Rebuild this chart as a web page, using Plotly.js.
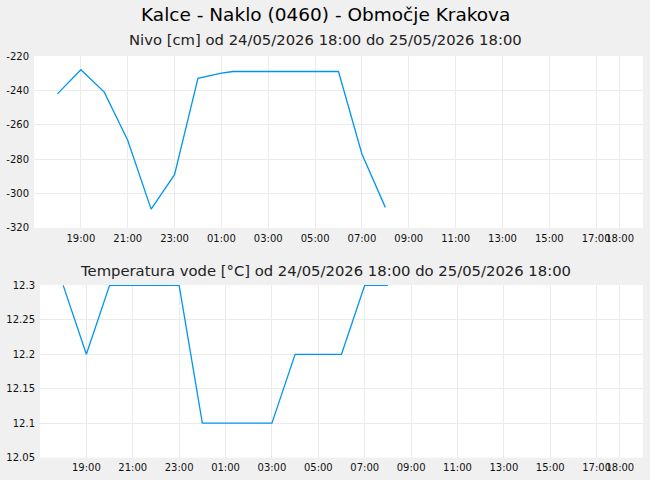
<!DOCTYPE html>
<html>
<head>
<meta charset="utf-8">
<script src="https://cdn.plot.ly/plotly-3.0.1.min.js"></script>
<style>
  html, body { margin: 0; padding: 0; background: #f0f0f0; }
  #chart { width: 650px; height: 480px; }
</style>
</head>
<body>
<div id="chart"></div>
<script>
// ===============================================
// DATA
// ===============================================
const levelTimes = [
    "2026-05-24 18:00", "2026-05-24 19:00", "2026-05-24 20:00", "2026-05-24 21:00",
    "2026-05-24 22:00", "2026-05-24 23:00", "2026-05-25 00:00", "2026-05-25 00:30",
    "2026-05-25 01:00", "2026-05-25 01:30", "2026-05-25 02:00", "2026-05-25 03:00",
    "2026-05-25 04:00", "2026-05-25 05:00", "2026-05-25 06:00", "2026-05-25 07:00",
    "2026-05-25 08:00"
];
const levelValues = [-242, -228, -241, -269, -309, -289, -233, -231.5, -230, -229, -229, -229, -229, -229, -229, -277, -308];

const tempTimes = [
    "2026-05-24 18:00", "2026-05-24 19:00", "2026-05-24 20:00", "2026-05-24 21:00",
    "2026-05-24 22:00", "2026-05-24 23:00", "2026-05-25 00:00", "2026-05-25 01:00",
    "2026-05-25 02:00", "2026-05-25 03:00", "2026-05-25 04:00", "2026-05-25 05:00",
    "2026-05-25 06:00", "2026-05-25 07:00", "2026-05-25 08:00"
];
const tempValues = [12.3, 12.2, 12.3, 12.3, 12.3, 12.3, 12.1, 12.1, 12.1, 12.1, 12.2, 12.2, 12.2, 12.3, 12.3];

const tickTimes = [
    "2026-05-24 19:00", "2026-05-24 21:00", "2026-05-24 23:00", "2026-05-25 01:00",
    "2026-05-25 03:00", "2026-05-25 05:00", "2026-05-25 07:00", "2026-05-25 09:00",
    "2026-05-25 11:00", "2026-05-25 13:00", "2026-05-25 15:00", "2026-05-25 17:00",
    "2026-05-25 18:00"
];
const tickLabels = ["19:00", "21:00", "23:00", "01:00", "03:00", "05:00", "07:00",
    "09:00", "11:00", "13:00", "15:00", "17:00", "18:00"];

const levelTicks = [-320, -300, -280, -260, -240, -220];
const levelTickLabels = ["-320", "-300", "-280", "-260", "-240", "-220"];
const tempTicks = [12.05, 12.1, 12.15, 12.2, 12.25, 12.3];
const tempTickLabels = ["12.05", "12.1", "12.15", "12.2", "12.25", "12.3"];

const xRange = ["2026-05-24 17:00", "2026-05-25 19:00"];

// ===============================================
// STYLE
// ===============================================
const lineColor = "#0095ee";
const gridColor = "#ebebeb";
const font = "DejaVu Sans, sans-serif";

function xAxis(anchor, domain, standoff) {
    return {
        type: "date",
        range: xRange,
        domain: domain,
        anchor: anchor,
        tickmode: "array",
        tickvals: tickTimes,
        ticktext: tickLabels,
        tickangle: 0,
        ticklabelstandoff: standoff,
        showgrid: true,
        gridcolor: gridColor,
        zeroline: false,
        showline: false,
        ticks: "",
        automargin: false,
        tickfont: { family: font, size: 10, color: "#111" }
    };
}

function yAxis(anchor, domain, range, vals, labels) {
    return {
        range: range,
        domain: domain,
        anchor: anchor,
        tickmode: "array",
        tickvals: vals,
        ticktext: labels,
        ticklabelstandoff: 4,
        showgrid: true,
        gridcolor: gridColor,
        zeroline: false,
        showline: false,
        ticks: "",
        automargin: false,
        tickfont: { family: font, size: 10, color: "#111" }
    };
}

// ===============================================
// TRACES + LAYOUT
// ===============================================
const traces = [
    {
        x: levelTimes, y: levelValues,
        type: "scatter", mode: "lines",
        line: { color: lineColor, width: 1.3 },
        xaxis: "x", yaxis: "y",
        hoverinfo: "skip"
    },
    {
        x: tempTimes, y: tempValues,
        type: "scatter", mode: "lines",
        line: { color: lineColor, width: 1.3 },
        xaxis: "x2", yaxis: "y2",
        hoverinfo: "skip"
    }
];

const layout = {
    width: 650,
    height: 480,
    margin: { l: 0, r: 0, t: 0, b: 0 },
    paper_bgcolor: "#f0f0f0",
    plot_bgcolor: "#ffffff",
    showlegend: false,
    font: { family: font },
    xaxis: xAxis("y", [34 / 650, 643 / 650], 3),
    yaxis: yAxis("x", [0.525, 0.8833], [-320, -220], levelTicks, levelTickLabels),
    xaxis2: xAxis("y2", [40 / 650, 643 / 650], 2),
    yaxis2: yAxis("x2", [0.0465, 0.40625], [12.05, 12.3005], tempTicks, tempTickLabels),
    annotations: [
        {
            text: "Kalce - Naklo (0460) - Območje Krakova",
            xref: "paper", yref: "paper", x: 0.5, y: 1 - 14 / 480,
            xanchor: "center", yanchor: "middle", showarrow: false,
            font: { family: font, size: 18.5, color: "#000" }
        },
        {
            text: "Nivo [cm] od 24/05/2026 18:00 do 25/05/2026 18:00",
            xref: "paper", yref: "paper", x: 0.5, y: 1 - 39 / 480,
            xanchor: "center", yanchor: "middle", showarrow: false,
            font: { family: font, size: 14.8, color: "#222" }
        },
        {
            text: "Temperatura vode [°C] od 24/05/2026 18:00 do 25/05/2026 18:00",
            xref: "paper", yref: "paper", x: 0.5, y: 1 - 270 / 480,
            xanchor: "center", yanchor: "middle", showarrow: false,
            font: { family: font, size: 14.8, color: "#222" }
        }
    ]
};

Plotly.newPlot("chart", traces, layout, { staticPlot: true, displayModeBar: false });
</script>
</body>
</html>
